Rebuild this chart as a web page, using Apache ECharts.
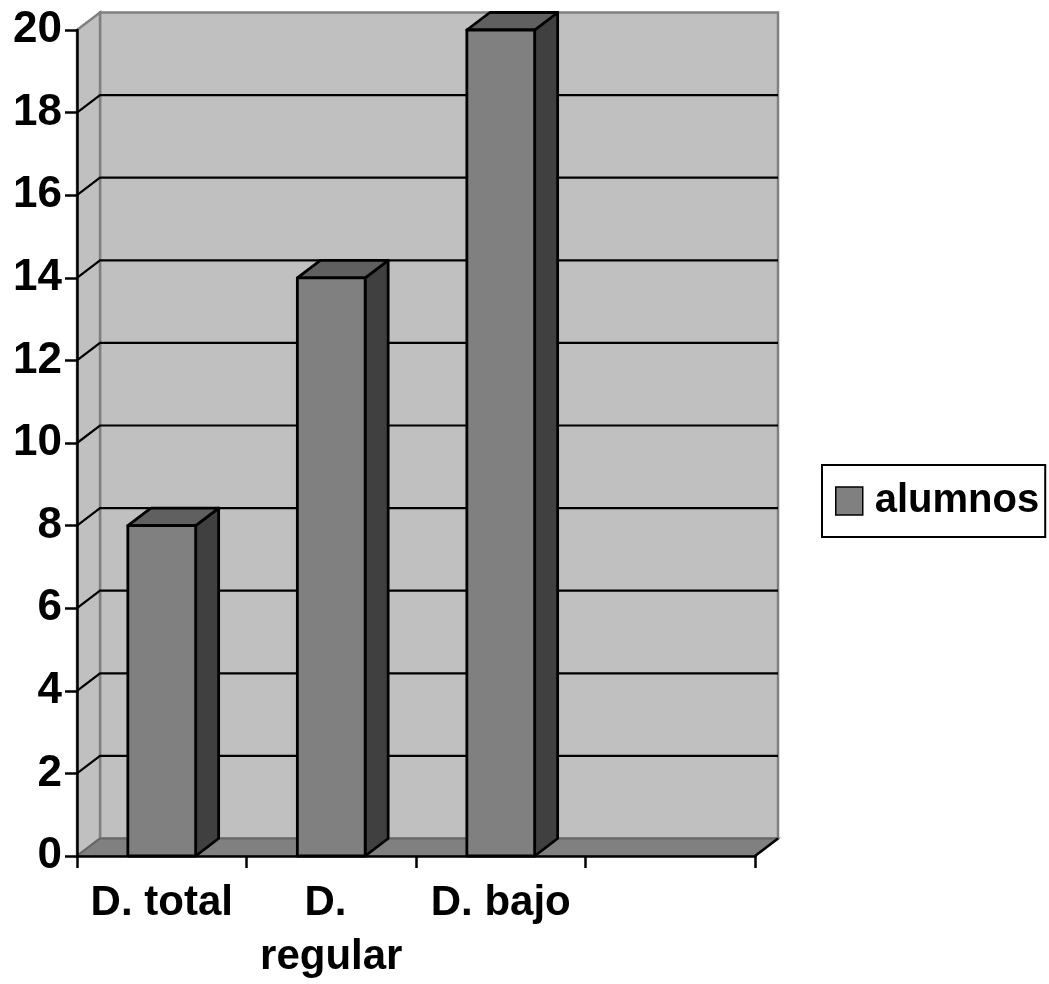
<!DOCTYPE html>
<html>
<head>
<meta charset="utf-8">
<script src="https://cdn.jsdelivr.net/npm/echarts@6/dist/echarts.min.js"></script>
<style>
  html, body { margin: 0; padding: 0; background: #ffffff; }
  #chart { width: 1049px; height: 984px; }
</style>
</head>
<body>
<div id="chart"></div>
<script>
// Chart data
const categories = ['D. total', 'D. regular', 'D. bajo', ''];
const alumnos = [8, 14, 20];
const seriesName = 'alumnos';
const yTicks = [0, 2, 4, 6, 8, 10, 12, 14, 16, 18, 20];

// Look & feel
const FONT = "Arial, 'Liberation Sans', sans-serif";
const DX = 23;        // depth offset of the 3D box, horizontal
const DY = -17.5;     // depth offset of the 3D box, vertical
const BAR_RATIO = 0.4;
const WALL = '#c0c0c0';
const WALL_EDGE = '#808080';
const FRONT = '#808080';
const TOP = '#606060';
const SIDE = '#404040';

// Back wall, side wall, floor and the gridlines running across them
function renderWalls(params, api) {
  const cs = params.coordSys;
  const x0 = cs.x, x1 = cs.x + cs.width;
  const yb = api.coord([0, yTicks[0]])[1];
  const yt = api.coord([0, yTicks[yTicks.length - 1]])[1];
  const children = [
    { type: 'polygon', shape: { points: [[x0 + DX, yt + DY], [x1 + DX, yt + DY], [x1 + DX, yb + DY], [x0 + DX, yb + DY]] },
      style: { fill: WALL, stroke: WALL_EDGE, lineWidth: 2.5 } },
    { type: 'polygon', shape: { points: [[x0, yt], [x0 + DX, yt + DY], [x0 + DX, yb + DY], [x0, yb]] },
      style: { fill: WALL, stroke: WALL_EDGE, lineWidth: 2.5 } },
    { type: 'polygon', shape: { points: [[x0, yb], [x0 + DX, yb + DY], [x1 + DX, yb + DY], [x1, yb]] },
      style: { fill: '#808080', stroke: '#666666', lineWidth: 2 } },
    { type: 'line', shape: { x1: x1, y1: yb, x2: x1 + DX, y2: yb + DY },
      style: { stroke: '#000', lineWidth: 2.5 } }
  ];
  yTicks.slice(1, -1).forEach(function (v) {
    const y = api.coord([0, v])[1];
    children.push({ type: 'polyline', shape: { points: [[x0, y], [x0 + DX, y + DY], [x1 + DX, y + DY]] },
      style: { stroke: '#000', lineWidth: 2.2, fill: null } });
  });
  return { type: 'group', children: children };
}

// A box-shaped bar: front face, top face and right side face
function renderBar(params, api) {
  const idx = api.value(0), val = api.value(1);
  const top = api.coord([idx, val]);
  const base = api.coord([idx, 0]);
  const w = api.size([1, 0])[0] * BAR_RATIO;
  const xl = top[0] - w / 2, xr = top[0] + w / 2;
  const yt = top[1], yb = base[1];
  const edge = { stroke: '#000', lineWidth: 2.8, lineJoin: 'round' };
  return {
    type: 'group',
    children: [
      { type: 'polygon', shape: { points: [[xr, yt], [xr + DX, yt + DY], [xr + DX, yb + DY], [xr, yb]] },
        style: Object.assign({ fill: SIDE }, edge) },
      { type: 'polygon', shape: { points: [[xl, yt], [xl + DX, yt + DY], [xr + DX, yt + DY], [xr, yt]] },
        style: Object.assign({ fill: TOP }, edge) },
      { type: 'rect', shape: { x: xl, y: yt, width: w, height: yb - yt },
        style: Object.assign({ fill: FRONT }, edge) }
    ]
  };
}

const chart = echarts.init(document.getElementById('chart'), null, { renderer: 'canvas' });
chart.setOption({
  animation: false,
  backgroundColor: '#ffffff',
  grid: { left: 77, right: 294, top: 30, bottom: 126 },
  legend: {
    data: [seriesName],
    left: 822, top: 465,
    backgroundColor: '#ffffff',
    borderColor: '#000', borderWidth: 2, borderRadius: 0,
    padding: [16, 6, 16, 13],
    itemWidth: 27, itemHeight: 28, icon: 'rect',
    itemStyle: { borderColor: '#000', borderWidth: 1.5 },
    textStyle: { fontSize: 40, fontWeight: 'bold', fontFamily: FONT, color: '#000', padding: [0, 0, 0, 7] }
  },
  xAxis: {
    type: 'category',
    data: categories,
    z: 10,
    axisLine: { lineStyle: { color: '#000', width: 2.5 } },
    axisTick: { show: true, length: 12, lineStyle: { color: '#000', width: 2.5 } },
    axisLabel: {
      interval: 0, margin: 20, color: '#000',
      fontSize: 42, fontWeight: 'bold', fontFamily: FONT, lineHeight: 54,
      width: 165, overflow: 'break'
    },
    splitLine: { show: false }
  },
  yAxis: {
    type: 'value',
    min: yTicks[0], max: yTicks[yTicks.length - 1], interval: yTicks[1] - yTicks[0],
    z: 10,
    axisLine: { show: true, lineStyle: { color: '#000', width: 2.5 } },
    axisTick: { show: true, length: 12, lineStyle: { color: '#000', width: 2.5 } },
    axisLabel: { margin: 15, color: '#000', fontSize: 44, fontWeight: 'bold', fontFamily: FONT },
    splitLine: { show: false }
  },
  series: [
    {
      type: 'custom',
      silent: true,
      z: 1,
      renderItem: renderWalls,
      data: [[0, 0]]
    },
    {
      name: seriesName,
      type: 'custom',
      z: 2,
      itemStyle: { color: FRONT },
      renderItem: renderBar,
      encode: { x: 0, y: 1 },
      data: alumnos.map(function (v, i) { return [i, v]; })
    }
  ]
});
</script>
</body>
</html>
